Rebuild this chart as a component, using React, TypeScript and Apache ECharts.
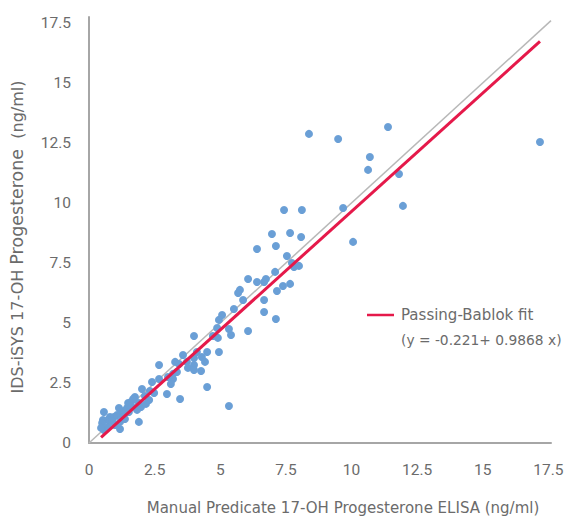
import React, { useEffect, useRef } from "react";
import * as echarts from "echarts";

// Manual predicate ELISA values (x) and IDS-iSYS values (y), ng/ml
const xValues: number[] = [
  17.18, 8.38, 9.49, 11.39, 10.7, 10.63, 11.81, 11.96, 9.68, 8.11,
  7.43, 8.08, 10.06, 6.97, 7.66, 6.4, 7.12, 7.54, 7.73, 7.81,
  8.0, 7.09, 6.06, 6.4, 6.67, 6.74, 7.39, 7.66, 7.16, 5.75,
  5.68, 5.87, 6.67, 5.52, 6.67, 5.07, 4.95, 7.12, 4.88, 5.33,
  6.06, 4.0, 5.41, 4.72, 4.91, 4.95, 4.5, 4.11, 3.58, 4.3,
  4.0, 4.42, 3.28, 3.43, 3.73, 3.77, 4.0, 4.0, 4.27, 2.67,
  3.35, 3.2, 3.01, 3.2, 2.67, 2.4, 3.12, 4.5, 2.48, 2.97,
  3.47, 5.33, 2.02, 2.29, 1.75, 1.6, 1.9, 1.98, 1.64, 1.45,
  1.33, 1.26, 1.07, 0.95, 0.8, 0.72, 0.53, 0.5, 0.57, 0.57,
  0.72, 0.99, 1.18, 1.3, 1.52, 1.18, 1.9, 1.14, 1.49, 1.68,
  0.46, 2.13, 1.83, 0.88, 1.37, 2.32, 2.17,
];
const yValues: number[] = [
  12.54, 12.88, 12.67, 13.17, 11.92, 11.38, 11.21, 9.88, 9.79, 9.71,
  9.71, 8.58, 8.38, 8.71, 8.75, 8.08, 8.21, 7.79, 7.5, 7.33,
  7.38, 7.13, 6.83, 6.71, 6.71, 6.83, 6.54, 6.63, 6.33, 6.38,
  6.25, 5.96, 5.96, 5.58, 5.46, 5.33, 5.13, 5.17, 4.79, 4.75,
  4.67, 4.46, 4.5, 4.46, 4.38, 3.79, 3.79, 3.79, 3.67, 3.58,
  3.54, 3.38, 3.38, 3.29, 3.38, 3.13, 3.25, 3.04, 3.0, 3.25,
  2.96, 2.88, 2.75, 2.67, 2.67, 2.54, 2.46, 2.33, 2.08, 2.04,
  1.83, 1.54, 2.25, 1.79, 1.92, 1.71, 1.67, 1.5, 1.5, 1.46,
  1.33, 1.25, 1.17, 1.08, 1.08, 0.96, 0.96, 0.83, 1.29, 0.54,
  0.67, 0.75, 0.88, 1.08, 1.29, 0.58, 0.88, 1.46, 1.67, 1.83,
  0.63, 1.96, 1.38, 0.92, 1.0, 2.17, 1.63,
];

// Passing-Bablok fit: y = intercept + slope * x, drawn over the x range of the data
const fitIntercept = -0.221;
const fitSlope = 0.9868;
const fitXRange: number[] = [0.46, 17.18];
const identityRange: number[] = [0, 17.6];

const axisTicks: number[] = [0, 2.5, 5, 7.5, 10, 12.5, 15, 17.5];

const FONT = "Roboto, 'Noto Sans', sans-serif";
const TITLE_FONT = "'DejaVu Sans', sans-serif";
const GRAY_TEXT = "#6b6b6b";

export default function App() {
  const ref = useRef<HTMLDivElement>(null);

  useEffect(() => {
    if (!ref.current) return;
    const chart = echarts.init(ref.current, undefined, { renderer: "svg" });
    const points = xValues.map((x, i) => [x, yValues[i]]);
    const fitLine = fitXRange.map((x) => [x, fitIntercept + fitSlope * x]);
    const identity = identityRange.map((v) => [v, v]);
    const fmt = (v: number) =>
      axisTicks.indexOf(v) >= 0 ? String(v) : "";

    chart.setOption({
      animation: false,
      backgroundColor: "#ffffff",
      textStyle: { fontFamily: FONT },
      grid: { left: 89, right: 16, top: 17, bottom: 73, containLabel: false },
      xAxis: {
        type: "value",
        min: 0,
        max: 17.6,
        interval: 2.5,
        axisLine: { show: true, lineStyle: { color: "#a6a6a6", width: 2 } },
        axisTick: { show: false },
        splitLine: { show: false },
        axisLabel: {
          formatter: fmt,
          color: GRAY_TEXT,
          fontSize: 15.5,
          margin: 19,
          fontFamily: FONT,
          showMaxLabel: true,
        },
      },
      yAxis: {
        type: "value",
        min: 0,
        max: 17.75,
        interval: 2.5,
        axisLine: { show: true, lineStyle: { color: "#a6a6a6", width: 2 } },
        axisTick: { show: false },
        splitLine: { show: false },
        axisLabel: {
          formatter: fmt,
          color: GRAY_TEXT,
          fontSize: 15.5,
          margin: 18,
          fontFamily: FONT,
        },
      },
      series: [
        {
          type: "line",
          data: identity,
          symbol: "none",
          lineStyle: { color: "#b8b8b8", width: 1.5 },
          z: 1,
          silent: true,
        },
        {
          type: "scatter",
          data: points,
          symbolSize: 8,
          itemStyle: { color: "#6a9fd6", opacity: 1 },
          z: 2,
        },
        {
          type: "line",
          data: fitLine,
          symbol: "none",
          lineStyle: { color: "#e5194a", width: 3 },
          z: 3,
          silent: true,
        },
      ],
      graphic: [
        {
          type: "line",
          shape: { x1: 367, y1: 315, x2: 394, y2: 315 },
          style: { stroke: "#e5194a", lineWidth: 2.5 },
        },
        {
          type: "text",
          x: 401,
          y: 315,
          style: {
            text: "Passing-Bablok fit",
            fill: GRAY_TEXT,
            fontSize: 15,
            fontFamily: TITLE_FONT,
            verticalAlign: "middle",
          },
        },
        {
          type: "text",
          x: 401,
          y: 340,
          style: {
            text: "(y = -0.221+ 0.9868 x)",
            fill: GRAY_TEXT,
            fontSize: 13.8,
            fontFamily: TITLE_FONT,
            verticalAlign: "middle",
          },
        },
        {
          type: "text",
          x: 343,
          y: 508,
          style: {
            text: "Manual Predicate 17-OH Progesterone ELISA (ng/ml)",
            fill: GRAY_TEXT,
            fontSize: 15,
            fontFamily: TITLE_FONT,
            align: "center",
            verticalAlign: "middle",
          },
        },
        {
          type: "text",
          x: 17,
          y: 237,
          rotation: Math.PI / 2,
          style: {
            text: "{a|IDS-iSYS 17-OH }{b|Progesterone}{c|  (ng/ml)}",
            align: "center",
            verticalAlign: "middle",
            fontFamily: TITLE_FONT,
            rich: {
              a: { fontSize: 16, fill: GRAY_TEXT, fontFamily: TITLE_FONT },
              b: { fontSize: 17.5, fill: GRAY_TEXT, fontFamily: TITLE_FONT },
              c: { fontSize: 16, fill: GRAY_TEXT, fontFamily: TITLE_FONT },
            },
          },
        },
      ],
    });
    return () => chart.dispose();
  }, []);

  return (
    <div
      ref={ref}
      style={{ position: "fixed", left: 0, top: 0, width: 567, height: 516 }}
    />
  );
}
